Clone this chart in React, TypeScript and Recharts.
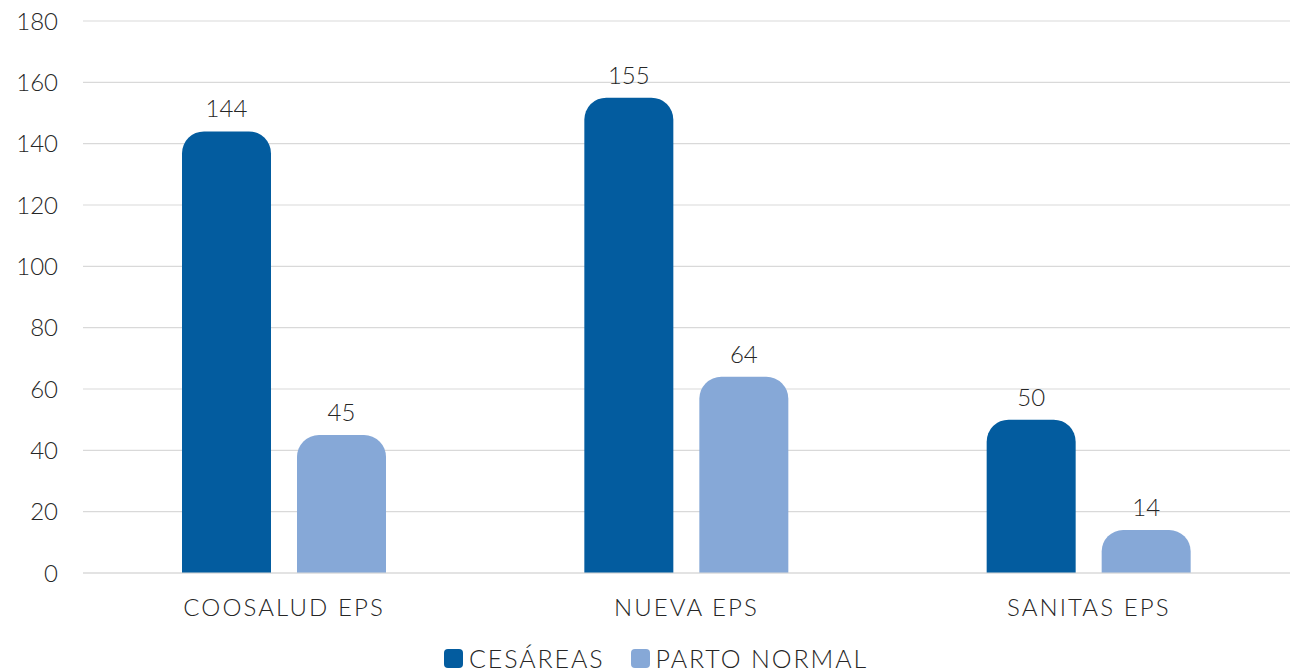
import React from "react";
import {
  BarChart,
  Bar,
  XAxis,
  YAxis,
  CartesianGrid,
  Legend,
  LabelList,
} from "recharts";

// categories and series values
const categories = ["COOSALUD EPS", "NUEVA EPS", "SANITAS EPS"];
const cesareas = [144, 155, 50];
const partoNormal = [45, 64, 14];
const yTicks = [0, 20, 40, 60, 80, 100, 120, 140, 160, 180];

const DARK = "#035C9F";
const LIGHT = "#86A8D7";
const TEXT = "#262626";
const FONT = "Lato, 'Open Sans', sans-serif";

const data = categories.map((name, i) => ({
  name,
  cesareas: cesareas[i],
  partoNormal: partoNormal[i],
}));

// legend drawn by hand so the swatches can be rounded squares
const CustomLegend = () => {
  const items = [
    { label: "CESÁREAS", color: DARK },
    { label: "PARTO NORMAL", color: LIGHT },
  ];
  return (
    <div
      style={{
        display: "flex",
        justifyContent: "center",
        gap: 26,
        paddingTop: 10,
        paddingLeft: 22,
        fontFamily: FONT,
        fontWeight: 300,
        fontSize: 25,
        letterSpacing: 1.9,
        color: TEXT,
      }}
    >
      {items.map((it) => (
        <div key={it.label} style={{ display: "flex", alignItems: "center" }}>
          <span
            style={{
              display: "inline-block",
              width: 19,
              height: 19,
              borderRadius: 4,
              background: it.color,
              marginRight: 6,
            }}
          />
          <span>{it.label}</span>
        </div>
      ))}
    </div>
  );
};

export default function App() {
  return (
    <div style={{ position: "absolute", left: 0, top: 0, background: "#fff" }}>
      <BarChart
        width={1291}
        height={672}
        data={data}
        margin={{ top: 21, right: 1, left: 0, bottom: 0 }}
        barGap={26}
        barSize={89}
      >
        <CartesianGrid vertical={false} stroke="#D9D9D9" strokeWidth={1.2} />
        <XAxis
          dataKey="name"
          axisLine={{ stroke: "#D9D9D9", strokeWidth: 1.2 }}
          tickLine={false}
          tickMargin={20}
          height={60}
          tick={{
            fill: TEXT,
            fontSize: 24,
            fontFamily: FONT,
            fontWeight: 300,
            letterSpacing: 2.1,
          }}
        />
        <YAxis
          width={83}
          domain={[0, 180]}
          ticks={yTicks}
          axisLine={false}
          tickLine={false}
          tickSize={0}
          tickMargin={25}
          tick={{ fill: TEXT, fontSize: 24, fontFamily: FONT, fontWeight: 300 }}
        />
        <Legend verticalAlign="bottom" height={39} content={<CustomLegend />} />
        <Bar
          dataKey="cesareas"
          name="CESÁREAS"
          fill={DARK}
          radius={[22, 22, 0, 0]}
          isAnimationActive={false}
        >
          <LabelList
            dataKey="cesareas"
            position="top"
            offset={14}
            fill={TEXT}
            fontSize={24}
            fontFamily={FONT}
            fontWeight={300}
          />
        </Bar>
        <Bar
          dataKey="partoNormal"
          name="PARTO NORMAL"
          fill={LIGHT}
          radius={[22, 22, 0, 0]}
          isAnimationActive={false}
        >
          <LabelList
            dataKey="partoNormal"
            position="top"
            offset={14}
            fill={TEXT}
            fontSize={24}
            fontFamily={FONT}
            fontWeight={300}
          />
        </Bar>
      </BarChart>
    </div>
  );
}
